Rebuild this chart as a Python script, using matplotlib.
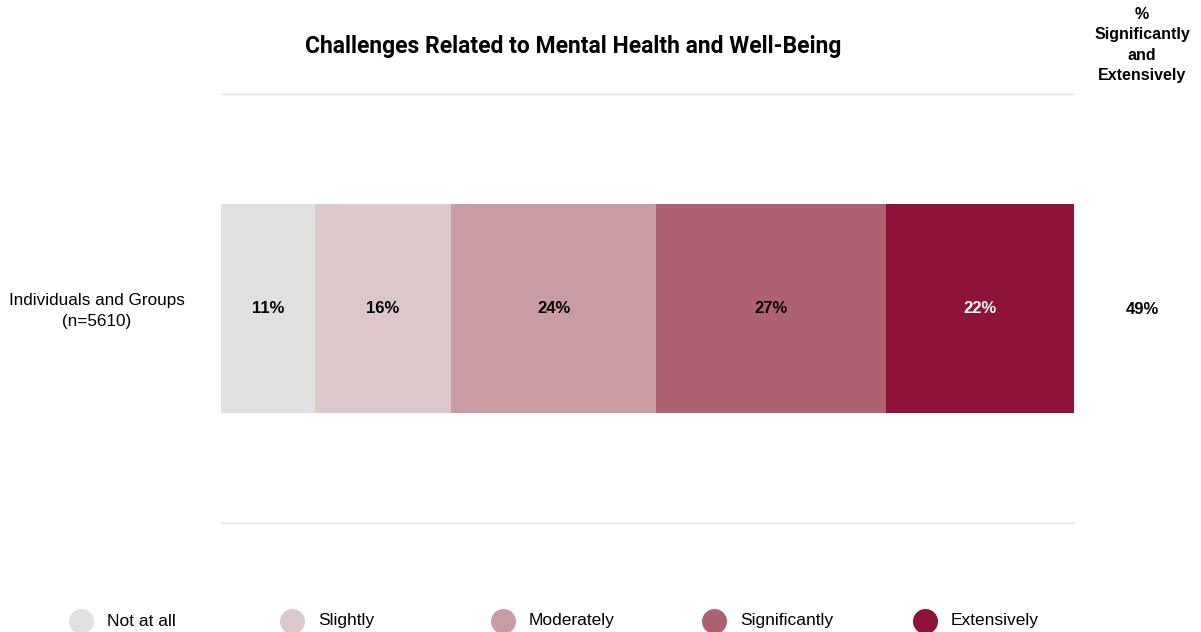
import matplotlib
matplotlib.use("Agg")
import matplotlib.pyplot as plt

# Survey responses
group_label = "Individuals and Groups\n(n=5610)"
categories = ["Not at all", "Slightly", "Moderately", "Significantly", "Extensively"]
shares = [11, 16, 24, 27, 22]
combined_share = 49  # Significantly + Extensively
colors = ["#e0e0e0", "#dcc8cb", "#c99ba3", "#ae6271", "#8d1339"]
label_colors = ["#000000", "#000000", "#000000", "#000000", "#ffffff"]

plt.rcParams["font.family"] = ["Liberation Sans", "DejaVu Sans"]

W, H = 1201, 632
fig = plt.figure(figsize=(W / 100, H / 100), dpi=100)
ax = fig.add_axes([221 / W, 1 - 523 / H, 853 / W, 429 / H])

left = 0
for cat, val, col, tcol in zip(categories, shares, colors, label_colors):
    ax.barh(0, val, left=left, height=0.485, color=col, edgecolor="none")
    ax.text(left + val / 2, 0, f"{val}%", ha="center", va="center",
            fontsize=12, fontweight="bold", color=tcol)
    left += val

ax.set_xlim(0, sum(shares))
ax.set_ylim(-0.5, 0.5)
ax.set_xticks([])
ax.set_yticks([])
for side in ["left", "right"]:
    ax.spines[side].set_visible(False)
for side in ["top", "bottom"]:
    ax.spines[side].set_color("#e3e3e3")
    ax.spines[side].set_linewidth(1)

# Row label
fig.text(97 / W, 1 - 311 / H, group_label, ha="center", va="center",
         fontsize=12.3, linespacing=1.5)

# Title
fig.text(573 / W, 1 - 47 / H, "Challenges Related to Mental Health and Well-Being",
         ha="center", va="center", fontsize=16.5, fontweight="bold",
         family=["Roboto", "DejaVu Sans"])

# Right-hand summary column
fig.text(1142 / W, 1 - 45 / H, "%\nSignificantly\nand\nExtensively",
         ha="center", va="center", fontsize=11.5, fontweight="bold",
         linespacing=1.45)
fig.text(1142 / W, 1 - 310 / H, f"{combined_share}%", ha="center", va="center",
         fontsize=12, fontweight="bold")

# Legend with evenly spaced entries
legend_y = 1 - 621 / H
for i, (cat, col) in enumerate(zip(categories, colors)):
    x0 = (81 + i * 211) / W
    fig.lines.append(plt.Line2D([x0], [legend_y], transform=fig.transFigure,
                                marker="o", markersize=18, linestyle="none",
                                markerfacecolor=col, markeredgecolor="none"))
    fig.text(x0 + 26 / W, legend_y, cat, ha="left", va="center", fontsize=12.5)

fig.savefig("out.png", dpi=100, facecolor="white")
